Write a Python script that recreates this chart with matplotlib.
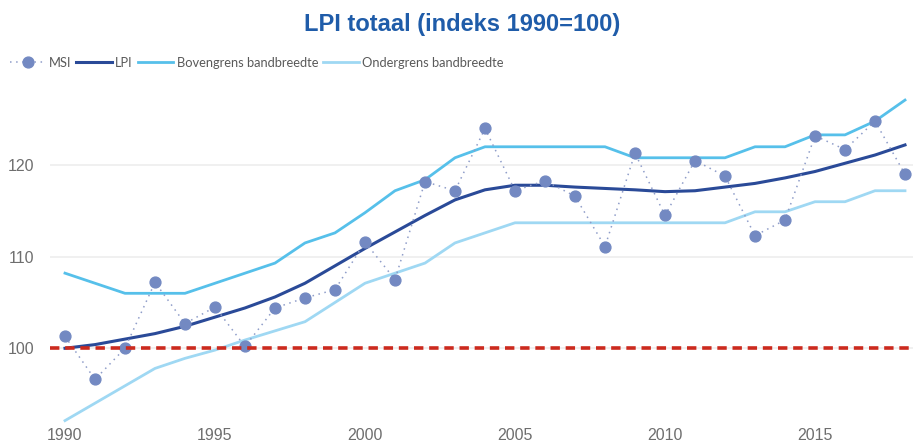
import matplotlib
matplotlib.use("Agg")
import matplotlib.pyplot as plt
from matplotlib.lines import Line2D

years = list(range(1990, 2019))
msi = [101.3, 96.6, 100.0, 107.2, 102.7, 104.5, 100.2, 104.4, 105.5, 106.4,
       111.6, 107.5, 118.2, 117.2, 124.0, 117.2, 118.3, 116.6, 111.1, 121.3,
       114.5, 120.5, 118.8, 112.3, 114.0, 123.2, 121.7, 124.8, 119.0]
lpi = [100.0, 100.4, 101.0, 101.6, 102.4, 103.4, 104.4, 105.6, 107.1, 109.0,
       110.9, 112.7, 114.5, 116.2, 117.3, 117.8, 117.8, 117.6, 117.45, 117.3,
       117.1, 117.2, 117.6, 118.0, 118.6, 119.3, 120.2, 121.1, 122.2]
upper = [108.2, 107.1, 106.0, 106.0, 106.0, 107.1, 108.2, 109.3, 111.5, 112.6,
         114.8, 117.2, 118.4, 120.8, 122.0, 122.0, 122.0, 122.0, 122.0, 120.8,
         120.8, 120.8, 120.8, 122.0, 122.0, 123.3, 123.3, 124.8, 127.1]
lower = [92.1, 94.0, 95.9, 97.8, 98.9, 99.8, 100.9, 101.9, 102.9, 105.0,
         107.1, 108.2, 109.3, 111.5, 112.6, 113.7, 113.7, 113.7, 113.7, 113.7,
         113.7, 113.7, 113.7, 114.9, 114.9, 116.0, 116.0, 117.2, 117.2]
reference = 100
yticks = [100, 110, 120]
xticks = [1990, 1995, 2000, 2005, 2010, 2015]
title = "LPI totaal (indeks 1990=100)"
labels = ["MSI", "LPI", "Bovengrens bandbreedte", "Ondergrens bandbreedte"]

W, H = 913, 441
fig = plt.figure(figsize=(W / 100, H / 100), dpi=100)
left_px, right_px, top_px, bot_px = 50, 913, 90, 424
ax = fig.add_axes([left_px / W, 1 - bot_px / H, (right_px - left_px) / W, (bot_px - top_px) / H])

px_per_year = 30
ax.set_xlim(1990 - (65 - left_px) / px_per_year, 1990 + (right_px - 65) / px_per_year)
ax.set_ylim(91.73, 128.2)

c_msi = "#7389c2"
c_msi_line = "#8f9dc9"
c_lpi = "#2a4a98"
c_up = "#56c0ea"
c_low = "#9fd8f3"
c_red = "#cc2a1e"

for y in yticks:
    ax.axhline(y, color="#ededed", lw=1.2, zorder=0)

ax.plot(years, upper, color=c_up, lw=2.0, zorder=2, solid_joinstyle="round")
ax.plot(years, lower, color=c_low, lw=2.0, zorder=2, solid_joinstyle="round")
ax.plot(years, lpi, color=c_lpi, lw=2.2, zorder=3)
ax.plot(years, msi, color=c_msi_line, lw=1.1, ls=(0, (1, 3)), zorder=4)
ax.plot(years, msi, ls="none", marker="o", ms=7.8, color=c_msi, mec=c_msi, zorder=5, clip_on=False)
ax.axhline(reference, color=c_red, lw=2.6, ls=(0, (2.6, 1.6)), zorder=6)

for s in ax.spines.values():
    s.set_visible(False)
ax.set_yticks(yticks)
ax.set_xticks(xticks)
ax.tick_params(length=0, labelsize=11.5, labelcolor="#6e6e6e", pad=3)
ax.tick_params(axis="y", pad=11)
for lab in ax.get_xticklabels() + ax.get_yticklabels():
    lab.set_family("Liberation Sans")

fig.text(462 / W, 1 - 25 / H, title, ha="center", va="center", fontsize=17,
         fontweight="bold", color="#1f5ca9", family="Liberation Sans")

handles = [
    Line2D([], [], color=c_msi_line, lw=1.1, ls=(0, (1, 3)), marker="o", ms=7.8,
           mfc=c_msi, mec=c_msi),
    Line2D([], [], color=c_lpi, lw=2.2),
    Line2D([], [], color=c_up, lw=2.0),
    Line2D([], [], color=c_low, lw=2.0),
]
leg = fig.legend(handles, labels, loc="center left", bbox_to_anchor=(6 / W, 1 - 63 / H),
                 ncol=4, frameon=False, fontsize=9.3, handlelength=2.75,
                 handletextpad=0.25, columnspacing=0.4, borderaxespad=0, borderpad=0.3)
for t in leg.get_texts():
    t.set_color("#595959")
    t.set_family("Lato")

fig.savefig("out.png", dpi=100)
